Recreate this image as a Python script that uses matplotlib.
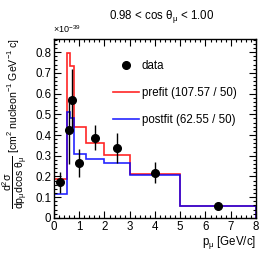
import matplotlib
matplotlib.use("Agg")
import matplotlib.pyplot as plt
from matplotlib.ticker import MultipleLocator
from matplotlib.lines import Line2D

plt.rcParams['font.family'] = ['Liberation Sans', 'DejaVu Sans']
plt.rcParams['mathtext.fontset'] = 'custom'
plt.rcParams['mathtext.rm'] = 'Liberation Sans'
plt.rcParams['mathtext.it'] = 'Liberation Sans'
plt.rcParams['mathtext.bf'] = 'Liberation Sans:bold'
plt.rcParams['mathtext.default'] = 'regular'

edges = [0, 0.5, 0.65, 0.8, 1.25, 2, 3, 5, 8]
prefit = [0.186, 0.795, 0.735, 0.440, 0.362, 0.302, 0.214, 0.059]
postfit = [0.116, 0.512, 0.482, 0.308, 0.286, 0.267, 0.209, 0.058]
data_x = [0.24, 0.575, 0.725, 1.0, 1.62, 2.5, 4.0, 6.5]
data_y = [0.171, 0.422, 0.568, 0.265, 0.386, 0.338, 0.218, 0.058]
data_err = [0.05, 0.16, 0.15, 0.066, 0.06, 0.072, 0.05, 0.014]

fig = plt.figure(figsize=(2.70, 2.57), dpi=100)
ax = fig.add_axes([0.2, 0.152, 0.748, 0.696])

ax.stairs(prefit, edges, color='#ff0000', lw=1.2, alpha=0.85)
ax.stairs(postfit, edges, color='#0000ff', lw=1.2, alpha=0.85)
ax.errorbar(data_x, data_y, yerr=data_err, fmt='o', color='black',
            ms=5.5, elinewidth=1.0, capsize=0)

ax.set_xlim(0, 8)
ax.set_ylim(0, 0.863)
ax.xaxis.set_major_locator(MultipleLocator(1))
ax.xaxis.set_minor_locator(MultipleLocator(0.2))
ax.yaxis.set_major_locator(MultipleLocator(0.1))
ax.yaxis.set_minor_locator(MultipleLocator(0.02))
ax.tick_params(which='both', direction='in', top=True, right=True, labelsize=8.3, pad=2)
ax.tick_params(which='major', length=5, width=0.8)
ax.tick_params(which='minor', length=2.5, width=0.8)
ax.set_yticklabels([f"{v:g}" for v in ax.get_yticks()])
for s in ax.spines.values():
    s.set_linewidth(1.0)

handles = [
    Line2D([], [], marker='o', color='black', ls='none', ms=5.5),
    Line2D([], [], color='#ff0000', lw=1.2, alpha=0.85),
    Line2D([], [], color='#0000ff', lw=1.2, alpha=0.85),
]
labels = ['data', 'prefit (107.57 / 50)', 'postfit (62.55 / 50)']
ax.legend(handles, labels, loc='upper left', bbox_to_anchor=(0.27, 0.91),
          frameon=False, fontsize=8.3, handlelength=2.2, handletextpad=0.3,
          labelspacing=1.3, borderaxespad=0)

fig.text(0.597, 0.935, r'0.98 < cos $\theta_{\mu}$ < 1.00', ha='center', va='center', fontsize=8.3)
fig.text(0.198, 0.862, r'$\times10^{-39}$', ha='left', va='bottom', fontsize=6.5)
fig.text(0.948, 0.058, r'p$_{\mu}$ [GeV/c]', ha='right', va='center', fontsize=8.3)
fig.text(0.058, 0.52,
         r'$\dfrac{d^{2}\sigma}{dp_{\mu}dcos\ \theta_{\mu}}$ [cm$^{2}$ nucleon$^{-1}$ GeV$^{-1}$ c]',
         rotation=90, ha='center', va='center', fontsize=7.6)

fig.savefig('out.png', dpi=100)
